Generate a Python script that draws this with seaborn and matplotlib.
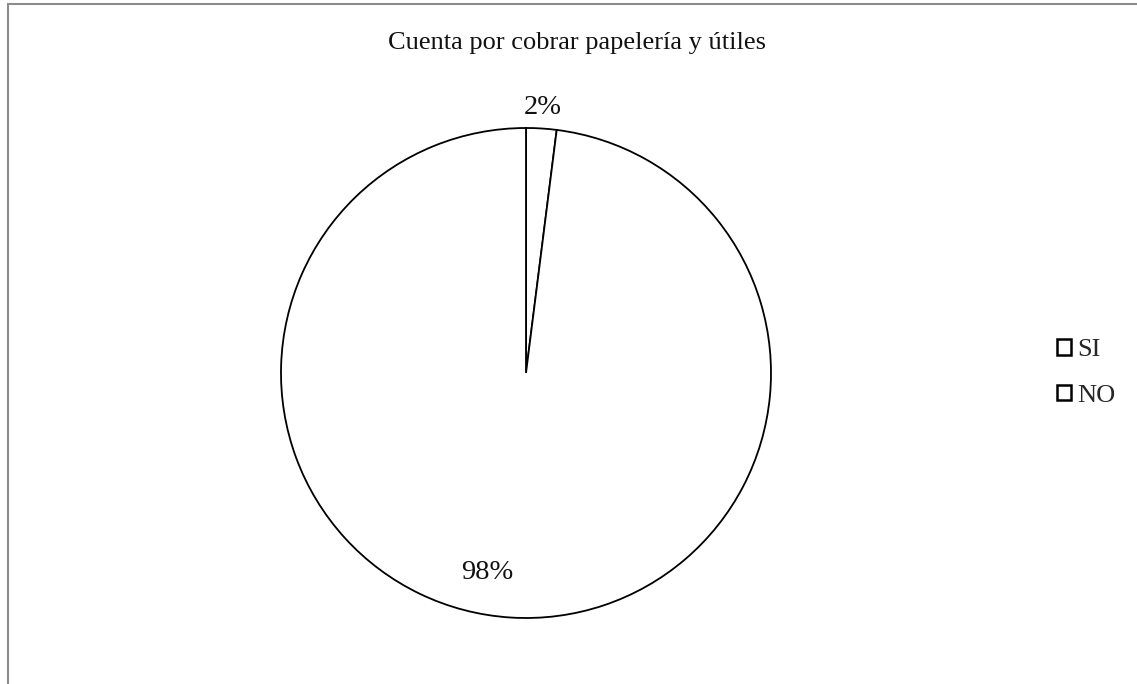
import matplotlib
matplotlib.use("Agg")
import matplotlib.pyplot as plt
from matplotlib.patches import Rectangle, Patch
import seaborn as sns

categories = ["SI", "NO"]
values = [2, 98]
title = "Cuenta por cobrar papelería y útiles"

sns.set_theme(style="white")
plt.rcParams['font.family'] = ['Liberation Serif', 'DejaVu Serif']

W, H = 1137, 684
fig = plt.figure(figsize=(W / 100, H / 100), dpi=100)
fig.patch.set_facecolor("white")

cx, cy, r = 526, 373, 245
ax = fig.add_axes([(cx - r) / W, (H - cy - r) / H, 2 * r / W, 2 * r / H])

wedges, texts, autotexts = ax.pie(
    values, startangle=90, counterclock=False,
    colors=["white", "white"],
    wedgeprops=dict(edgecolor="black", linewidth=1.3),
    autopct=lambda p: f"{p:.0f}%", pctdistance=1.085,
    textprops=dict(fontsize=20.5, color="#111111"),
)
# Excel-like placement of the large slice label (inside, lower-left)
autotexts[1].set_position((-0.158, -0.815))
ax.set_xlim(-1, 1)
ax.set_ylim(-1, 1)
ax.set_aspect("equal")
ax.axis("off")

fig.text(577 / W, 1 - 43 / H, title, ha="center", va="center", fontsize=19, color="#111111")

handles = [Patch(facecolor="white", edgecolor="black", linewidth=1.8, label=c) for c in categories]
fig.legend(handles=handles, loc="center left", bbox_to_anchor=(1057 / W, 1 - 373 / H),
           frameon=False, fontsize=19, handlelength=0.53, handleheight=0.53,
           handletextpad=0.25, labelspacing=0.9, borderpad=0, borderaxespad=0)

fig.patches.append(Rectangle((8 / W, -0.1), 1.2, (H - 4) / H + 0.1, transform=fig.transFigure,
                             fill=False, edgecolor="#8c8c8c", linewidth=1.5, figure=fig))

fig.savefig("out.png", dpi=100, facecolor="white")
